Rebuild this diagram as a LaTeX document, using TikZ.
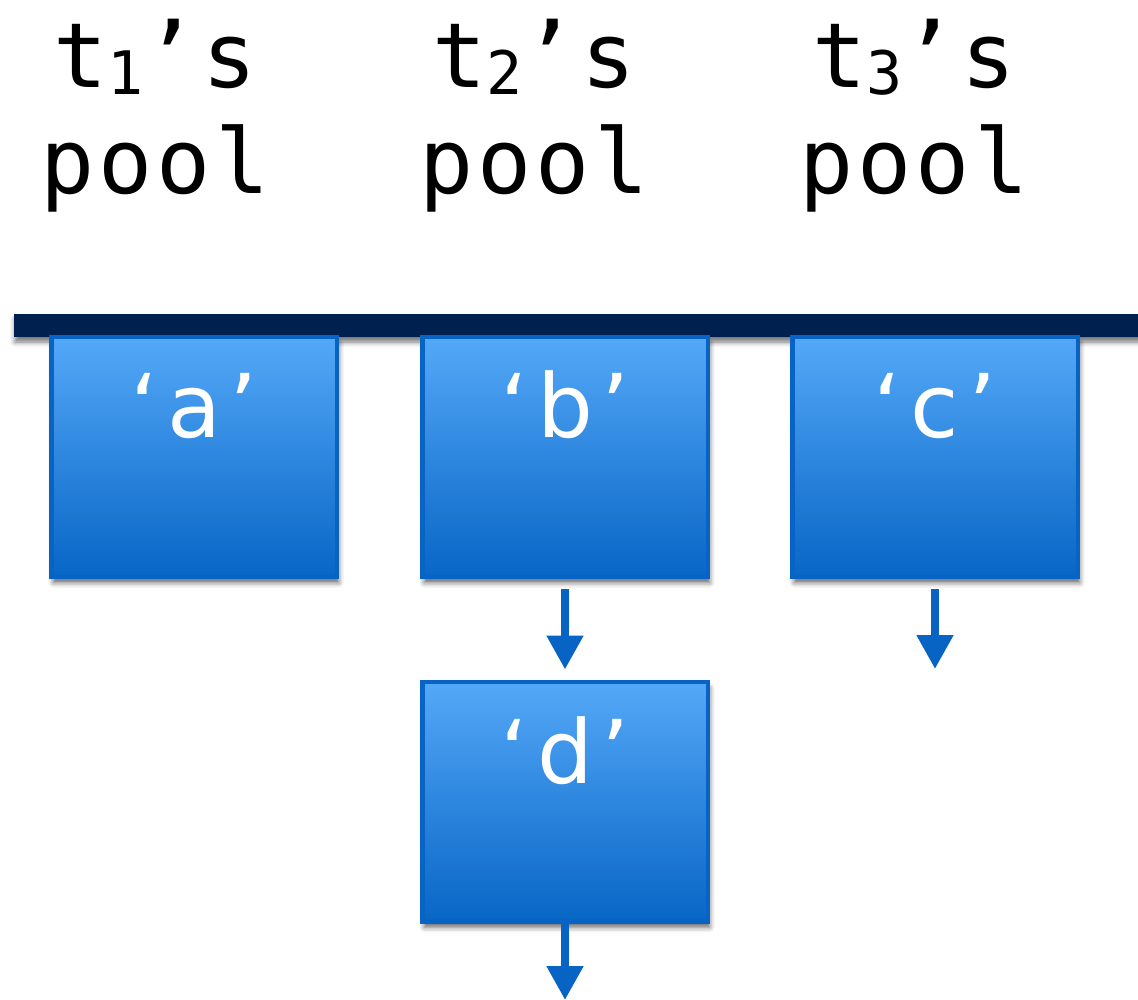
\documentclass[tikz,border=0pt]{standalone}
\usepackage{fontspec}
\newfontfamily\monofont[LetterSpace=4.5]{DejaVu Sans Mono}
\newfontfamily\labfont{DejaVu Sans}
\usetikzlibrary{arrows.meta,shadows.blur}
\definecolor{navy}{RGB}{0,33,80}
\definecolor{edgeblue}{RGB}{8,100,196}
\definecolor{topblue}{RGB}{84,168,247}
\definecolor{botblue}{RGB}{8,102,198}
\newcommand{\tsub}[1]{{\fontsize{60}{60}\selectfont\raisebox{-7pt}{#1}}}
\newcommand{\qlab}[1]{‘\kern9pt #1\kern9pt ’}
\begin{document}
\begin{tikzpicture}[x=1pt,y=-1pt,
  title/.style={font=\monofont\fontsize{90}{106}\selectfont, inner sep=0pt, anchor=base},
  poolbox/.style={draw=edgeblue, line width=4.5pt, top color=topblue, bottom color=botblue,
    minimum width=285.5pt, minimum height=239.5pt, inner sep=0pt,
    blur shadow={shadow xshift=2pt, shadow yshift=-6pt, shadow blur radius=5pt, shadow opacity=60}},
  boxlabel/.style={font=\labfont\fontsize{88}{88}\selectfont, text=white, inner sep=0pt, anchor=base},
  arr/.style={draw=edgeblue, line width=8pt, -{Triangle[width=35pt,length=34pt]}}]
\useasboundingbox (0,0) rectangle (1138,1000);

% titles
\node[title] (t1) at (155,88) {t\tsub{1}’s};
\node[title] (p1) at (155,194) {pool};
\node[title] (t2) at (534,88) {t\tsub{2}’s};
\node[title] (p2) at (534,194) {pool};
\node[title] (t3) at (914,88) {t\tsub{3}’s};
\node[title] (p3) at (914,194) {pool};

% bar
\node[fill=navy, minimum width=1140pt, minimum height=23pt, inner sep=0pt, outer sep=0pt,
  anchor=north west, blur shadow={shadow xshift=1pt, shadow yshift=-5pt, shadow blur radius=5pt, shadow opacity=55}] (bar) at (14,314) {};

% boxes
\node[poolbox] (a) at (194,457) {};
\node[poolbox] (b) at (565,457) {};
\node[poolbox] (c) at (935,457) {};
\node[poolbox] (d) at (565,801.5) {};

\node[boxlabel] (la) at (194,437) {\qlab{a}};
\node[boxlabel] (lb) at (565,437) {\qlab{b}};
\node[boxlabel] (lc) at (935,437) {\qlab{c}};
\node[boxlabel] (ld) at (565,783) {\qlab{d}};

% arrows
\coordinate (cend) at (935,669);
\coordinate (dend) at (565,1000);
\draw[arr] ([yshift=-10pt]b.south) -- ([yshift=10pt]d.north);
\draw[arr] ([yshift=-10pt]c.south) -- (cend);
\draw[arr] (d.south) -- (dend);
\end{tikzpicture}
\end{document}
